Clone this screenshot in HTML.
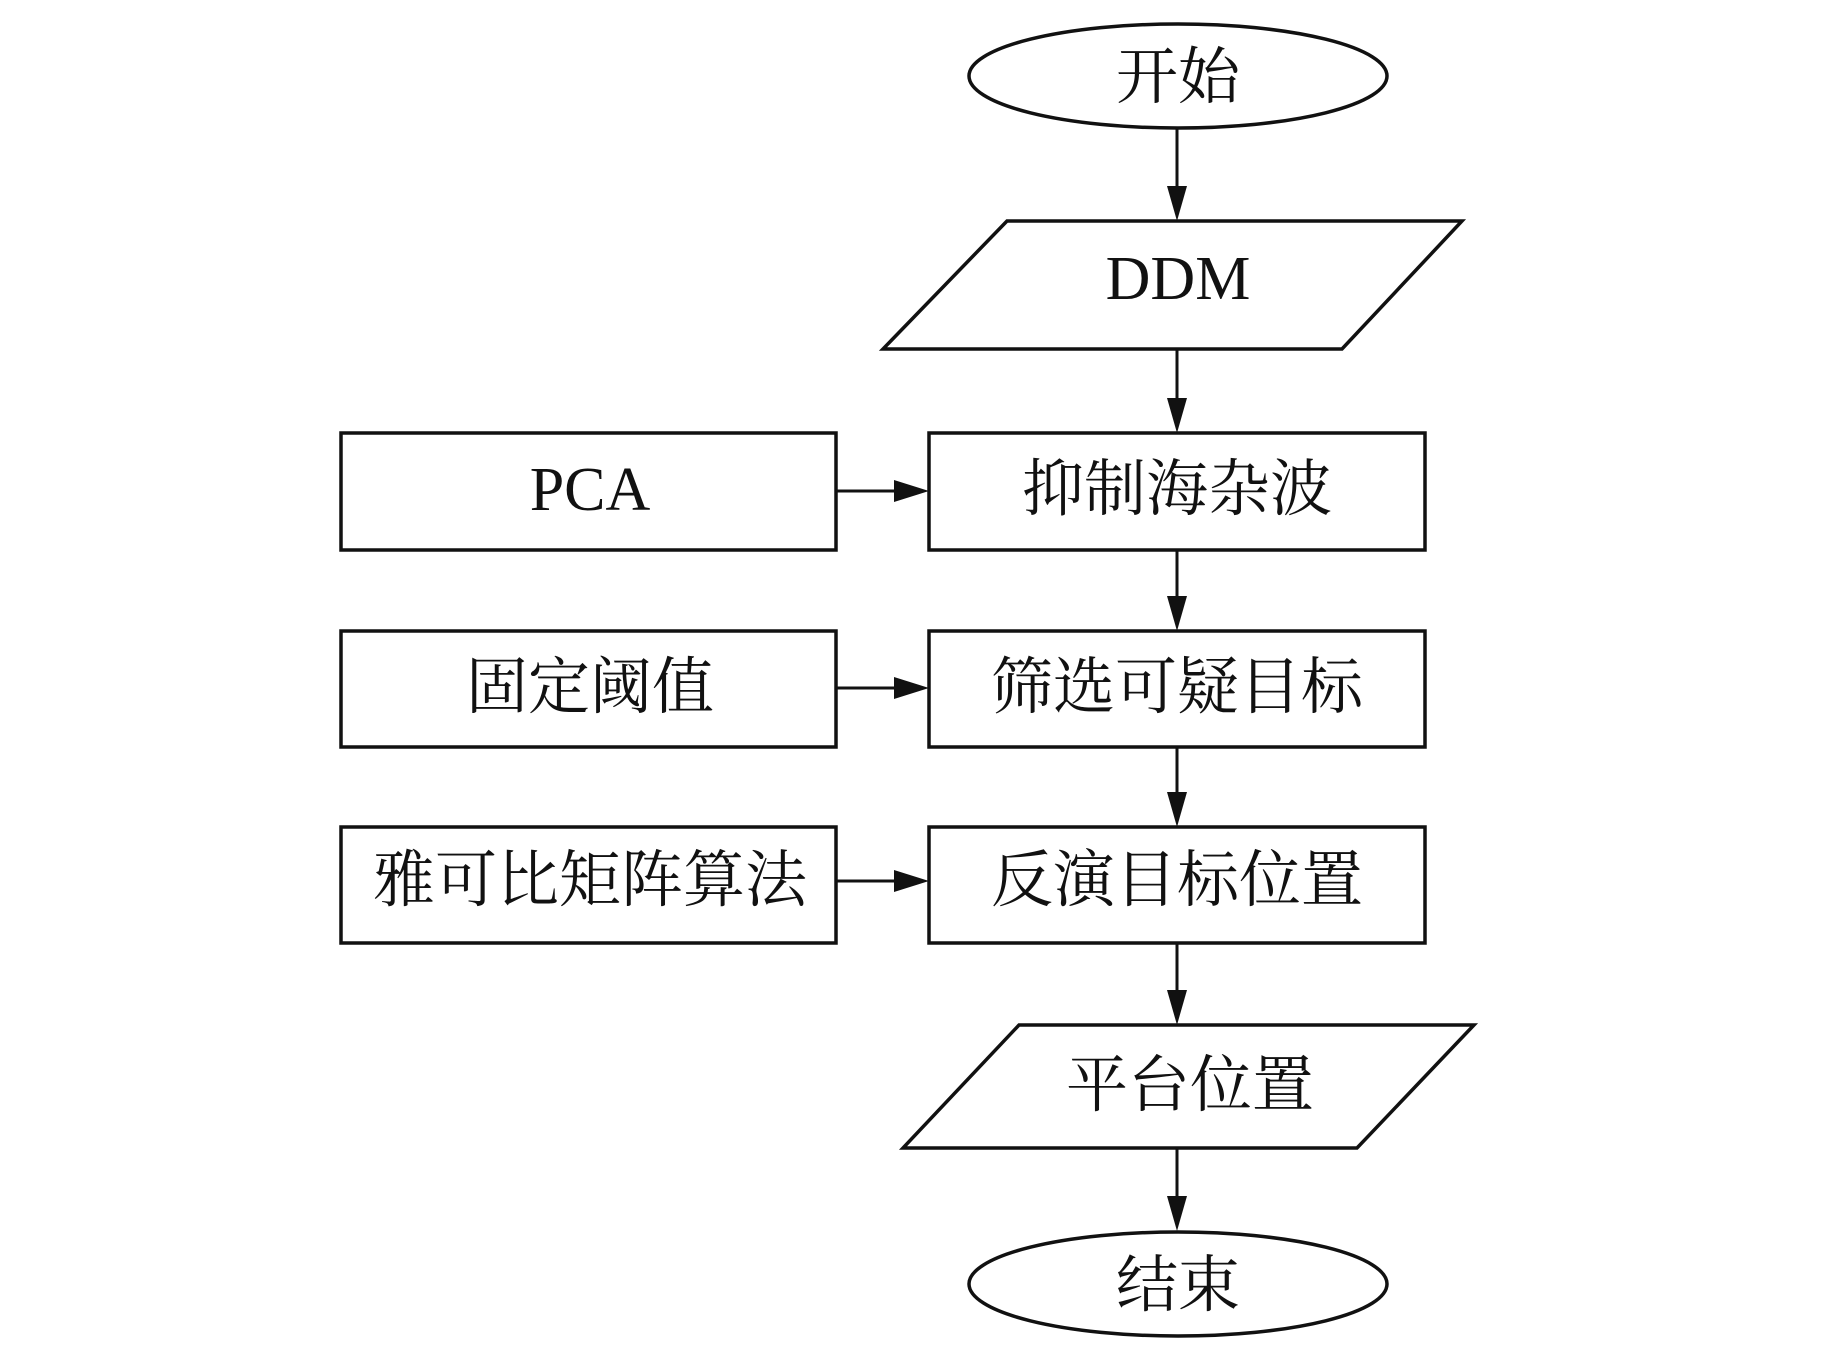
<!DOCTYPE html>
<html><head><meta charset="utf-8"><style>
html,body{margin:0;padding:0;background:#fff}
svg{display:block}
text{font-family:"Liberation Serif","Noto Serif CJK SC",serif;font-size:62px;fill:#111;text-anchor:middle;dominant-baseline:central}
</style></head><body>
<svg width="1843" height="1346" viewBox="0 0 1843 1346" xmlns="http://www.w3.org/2000/svg">
<defs><marker id="a" markerWidth="10" markerHeight="10" refX="9" refY="5" orient="auto" markerUnits="userSpaceOnUse" viewBox="0 0 10 10"><path d="M0,0 L10,5 L0,10 z" fill="#111"/></marker>
</defs>
<g fill="none" stroke="#111" stroke-width="3.5">
<ellipse cx="1178" cy="76" rx="209" ry="52"/>
<polygon points="1007,221 1462,221 1342,349 883,349"/>
<rect x="929" y="433" width="496" height="117"/>
<rect x="341" y="433" width="495" height="117"/>
<rect x="929" y="631" width="496" height="116"/>
<rect x="341" y="631" width="495" height="116"/>
<rect x="929" y="827" width="496" height="116"/>
<rect x="341" y="827" width="495" height="116"/>
<polygon points="1019,1025 1474,1025 1357,1148 903,1148"/>
<ellipse cx="1178" cy="1284" rx="209" ry="52"/>
</g>
<g stroke="#111" stroke-width="3">
<line x1="1177" y1="128" x2="1177" y2="200"/>
<line x1="1177" y1="349" x2="1177" y2="412"/>
<line x1="1177" y1="550" x2="1177" y2="610"/>
<line x1="1177" y1="747" x2="1177" y2="806"/>
<line x1="1177" y1="943" x2="1177" y2="1004"/>
<line x1="1177" y1="1148" x2="1177" y2="1210"/>
<line x1="836" y1="491" x2="900" y2="491"/>
<line x1="836" y1="688" x2="900" y2="688"/>
<line x1="836" y1="881" x2="900" y2="881"/>
</g>
<g fill="#111">
<path d="M1167,186 L1187,186 L1177,221 z"/>
<path d="M1167,398 L1187,398 L1177,433 z"/>
<path d="M1167,596 L1187,596 L1177,631 z"/>
<path d="M1167,792 L1187,792 L1177,827 z"/>
<path d="M1167,990 L1187,990 L1177,1025 z"/>
<path d="M1167,1196 L1187,1196 L1177,1231 z"/>
<path d="M894,480 L929,491 L894,502 z"/>
<path d="M894,677 L929,688 L894,699 z"/>
<path d="M894,870 L929,881 L894,892 z"/>
</g>
<text x="1178" y="78">开始</text>
<text x="1178" y="279">DDM</text>
<text x="1177" y="490">抑制海杂波</text>
<text x="590" y="490">PCA</text>
<text x="1177" y="688">筛选可疑目标</text>
<text x="590" y="688">固定阈值</text>
<text x="1177" y="881">反演目标位置</text>
<text x="590" y="881">雅可比矩阵算法</text>
<text x="1190" y="1086">平台位置</text>
<text x="1178" y="1286">结束</text>
</svg>
</body></html>
